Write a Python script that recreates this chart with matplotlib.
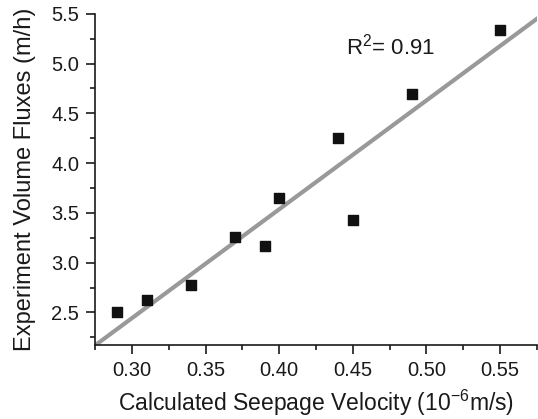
import matplotlib
matplotlib.use("Agg")
import matplotlib.pyplot as plt
import numpy as np
from matplotlib.ticker import MultipleLocator

plt.rcParams["font.family"] = ["Liberation Sans", "DejaVu Sans"]
plt.rcParams["mathtext.default"] = "regular"

# calculated seepage velocity (1e-6 m/s) vs experiment volume flux (m/h)
velocity = np.array([0.29, 0.31, 0.34, 0.37, 0.39, 0.40, 0.44, 0.45, 0.49, 0.55])
flux = np.array([2.50, 2.63, 2.78, 3.26, 3.17, 3.65, 4.25, 3.43, 4.69, 5.34])
r2_label = "R$^2$= 0.91"

slope, icpt = np.polyfit(velocity, flux, 1)
xlim = (0.275, 0.575)
ylim = (2.175, 5.5)

fig = plt.figure(figsize=(5.38, 4.19), dpi=100)
ax = fig.add_axes([0.177, 0.177, 0.821, 0.79])

xs = np.array(xlim)
ax.plot(xs, slope * xs + icpt, color="#999999", lw=3, zorder=1)
ax.scatter(velocity, flux, marker="s", s=50, color="#111111", zorder=2)
ax.text(0.4755, 5.17, r2_label, fontsize=16, ha="center", va="center",
        color="#1a1a1a")

ax.set_xlim(*xlim)
ax.set_ylim(*ylim)
ax.xaxis.set_major_locator(MultipleLocator(0.05))
ax.xaxis.set_minor_locator(MultipleLocator(0.025))
ax.yaxis.set_major_locator(MultipleLocator(0.5))
ax.yaxis.set_minor_locator(MultipleLocator(0.25))
ax.xaxis.set_major_formatter(plt.FormatStrFormatter("%.2f"))
ax.yaxis.set_major_formatter(plt.FormatStrFormatter("%.1f"))
for s in ["top", "right"]:
    ax.spines[s].set_visible(False)
for s in ["left", "bottom"]:
    ax.spines[s].set_linewidth(1.2)
    ax.spines[s].set_color("#1a1a1a")
ax.tick_params(which="major", length=6.5, width=1.2, labelsize=14.5,
               direction="out", pad=5, color="#1a1a1a", labelcolor="#1a1a1a")
ax.tick_params(which="minor", length=3.6, width=1.2, direction="out",
               color="#1a1a1a")

ax.set_xlabel("Calculated Seepage Velocity (10$^{-6}$m/s)", fontsize=16.5,
              color="#1a1a1a", labelpad=6)
ax.set_ylabel("Experiment Volume Fluxes (m/h)", fontsize=17,
              color="#1a1a1a", labelpad=11)

fig.savefig("out.png", dpi=100)
plt.close(fig)
